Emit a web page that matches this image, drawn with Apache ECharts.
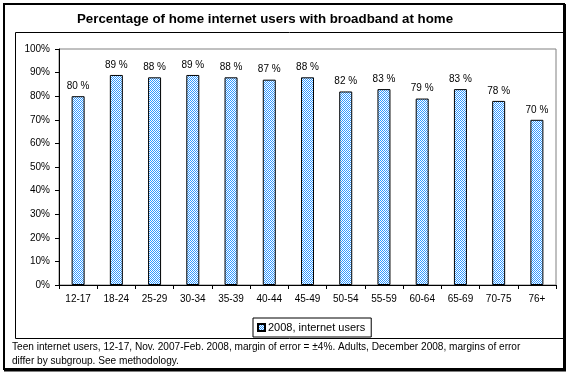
<!DOCTYPE html>
<html><head><meta charset="utf-8">
<script src="https://cdn.jsdelivr.net/npm/echarts@6/dist/echarts.min.js"></script>
<style>html,body{margin:0;padding:0;background:#fff}#c{width:568px;height:384px}</style>
</head><body><div id="c"></div>
<script>
var categories = ['12-17','18-24','25-29','30-34','35-39','40-44','45-49','50-54','55-59','60-64','65-69','70-75','76+'];
var values = [80, 89, 88, 89, 88, 87, 88, 82, 83, 79, 83, 78, 70];
var yTicks = [0,10,20,30,40,50,60,70,80,90,100];
var seriesName = '2008, internet users';
var titleText = 'Percentage of home internet users with broadband at home';
var footLines = ['Teen internet users, 12-17, Nov. 2007-Feb. 2008, margin of error = \u00b14%. Adults, December 2008, margins of error', 'differ by subgroup. See methodology.'];

var cv = document.createElement('canvas'); cv.width = 2; cv.height = 2;
var cx = cv.getContext('2d');
cx.fillStyle = '#ffffff'; cx.fillRect(0,0,2,2);
cx.fillStyle = '#3399ff'; cx.fillRect(0,0,1,1); cx.fillRect(1,1,1,1);
var pattern = {image: cv, repeat: 'repeat'};

var ff = 'Liberation Sans, Arial, sans-serif';
var chart = echarts.init(document.getElementById('c'), null, {renderer:'canvas'});
chart.setOption({
  animation: false,
  backgroundColor: '#fff',
  title: {text: titleText, left: 72, top: 8, textStyle: {fontFamily: ff, fontSize: 13.3, fontWeight: 'bold', color: '#000'}},
  grid: {left: 59, right: 12, top: 49, bottom: 99, show: true, borderColor: '#808080', borderWidth: 1, backgroundColor: 'transparent'},
  legend: {data: [{name: seriesName, icon: 'rect'}], top: 318, left: 253, itemWidth: 7, itemHeight: 7, itemGap: 4,
    borderColor: '#000', borderWidth: 1, padding: [4, 6, 4, 4],
    textStyle: {fontFamily: ff, fontSize: 11, color: '#000', padding: [0,0,0,-2]}},
  xAxis: {type: 'category', data: categories,
    axisLine: {lineStyle: {color: '#000'}},
    axisTick: {show: true, alignWithLabel: false, length: 4, lineStyle: {color: '#000'}},
    axisLabel: {fontFamily: ff, fontSize: 10, color: '#000', margin: 9}},
  yAxis: {type: 'value', min: 0, max: 100, interval: 10,
    axisLine: {show: true, lineStyle: {color: '#000'}},
    axisTick: {show: true, inside: false, length: 4, lineStyle: {color: '#000'}},
    splitLine: {show: false},
    axisLabel: {fontFamily: ff, fontSize: 10, color: '#000', margin: 9, formatter: function(v){return v + '%';}}},
  series: [{name: seriesName, type: 'bar', data: values, barWidth: 13,
    itemStyle: {color: pattern, borderColor: '#000', borderWidth: 1},
    label: {show: true, position: 'top', distance: 5, fontFamily: ff, fontSize: 10, color: '#000', formatter: function(p){return p.value + ' %';}}}],
  graphic: [
    {type: 'rect', shape: {x: 4, y: 4, width: 560, height: 365}, style: {fill: 'none', stroke: '#000', lineWidth: 2}, silent: true},
    {type: 'line', shape: {x1: 565, y1: 4, x2: 565, y2: 371}, style: {stroke: '#000', lineWidth: 2}},
    {type: 'line', shape: {x1: 4, y1: 370.5, x2: 566, y2: 370.5}, style: {stroke: '#000', lineWidth: 2}},
    {type: 'rect', shape: {x: 15.5, y: 32.5, width: 548, height: 306}, style: {fill: 'none', stroke: '#000', lineWidth: 1}, silent: true},
    {type: 'text', left: 12, top: 342, style: {text: footLines[0], font: '10.1px ' + ff, fill: '#000'}},
    {type: 'text', left: 12, top: 356, style: {text: footLines[1], font: '10.1px ' + ff, fill: '#000'}}
  ]
});
</script></body></html>
